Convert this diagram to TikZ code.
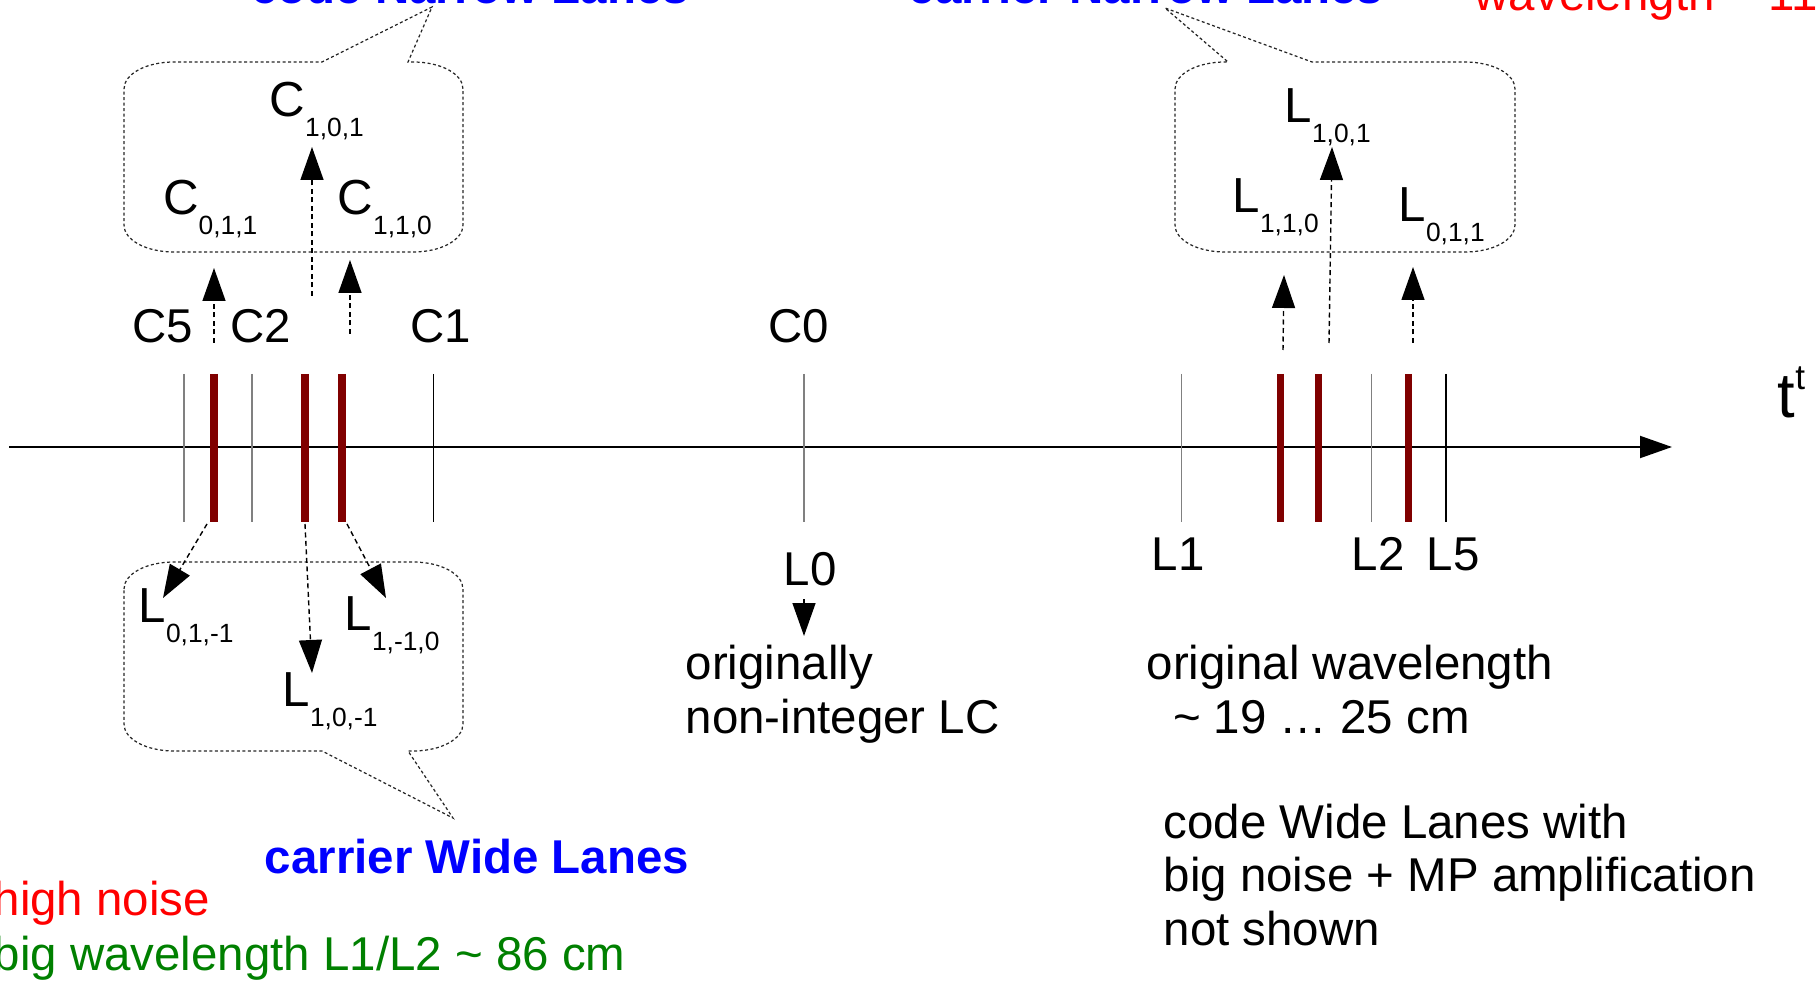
\documentclass[tikz,border=0pt]{standalone}
\usepackage{fontspec}
\setmainfont{Liberation Sans}
\usetikzlibrary{arrows.meta}

\definecolor{lanered}{RGB}{128,0,0}
\definecolor{titleblue}{RGB}{0,0,255}
\definecolor{noisered}{RGB}{255,0,0}
\definecolor{wavegreen}{RGB}{0,128,0}

\newcommand{\lanelbl}[2]{{\fontsize{14}{14}\selectfont #1}\raisebox{-2mm}{\fontsize{7.5}{8}\selectfont #2}}

\begin{document}
\begin{tikzpicture}[x=0.1mm,y=-0.1mm,
  every node/.style={inner sep=0pt,font=\fontsize{13.5}{15.1}\selectfont},
  lane/.style={draw=lanered,line width=2pt},
  freq/.style={draw=gray,line width=0.5pt},
  bubble/.style={draw=black!85,line width=0.35pt,dash pattern=on 0.3mm off 0.25mm},
  combo/.style={draw=black,line width=0.4pt,dash pattern=on 0.5mm off 0.35mm,-{Triangle[length=3.3mm,width=2.3mm]}},
  heading/.style={font=\fontsize{13.5}{15}\selectfont\bfseries,text=titleblue}]
\useasboundingbox (0,0) rectangle (1820,981);
\clip (0,0) rectangle (1820,981);

% time axis
\coordinate (axl) at (9,447);
\coordinate (axr) at (1672,447);
\draw[line width=0.55pt,-{Triangle[length=3.2mm,width=2.2mm]}] (axl) -- (axr);
\node[anchor=base west] (taxis) at (1777,418) {\fontsize{18}{18}\selectfont t\raisebox{2.9mm}{\fontsize{10}{10}\selectfont t}};

% frequencies and combinations on the axis
\draw[freq] (184,374) -- (184,522);
\draw[lane] (214,374) -- (214,522);
\draw[freq] (252,374) -- (252,522);
\draw[lane] (305,374) -- (305,522);
\draw[lane] (342,374) -- (342,522);
\draw[freq,draw=black] (433.5,374) -- (433.5,522);
\draw[freq] (804,374) -- (804,522);
\draw[freq] (1181.5,374) -- (1181.5,522);
\draw[lane] (1280,374) -- (1280,522);
\draw[lane] (1318,374) -- (1318,522);
\draw[freq] (1371.5,374) -- (1371.5,522);
\draw[lane] (1408.5,374) -- (1408.5,522);
\draw[freq,draw=black,line width=0.35pt] (1446,374) -- (1446,522);

\node[anchor=base] (c5) at (163,343) {C5};
\node[anchor=base] (c2) at (261,343) {C2};
\node[anchor=base] (c1) at (441,343) {C1};
\node[anchor=base] (c0) at (799,343) {C0};
\node[anchor=base] (l0) at (810,585) {L0};
\node[anchor=base] (l1) at (1178,570) {L1};
\node[anchor=base] (l2) at (1378,570) {L2};
\node[anchor=base] (l5) at (1453,570) {L5};

% code narrow lanes
\draw[bubble] (124,89) .. controls (124,74) and (146,62) .. (174,62) -- (322,62) -- (432,7) -- (408,62) -- (413,62)
  .. controls (441,62) and (463,74) .. (463,89) -- (463,225) .. controls (463,240) and (441,252) .. (413,252)
  -- (174,252) .. controls (146,252) and (124,240) .. (124,225) -- cycle;
\node[heading,anchor=base] (cnl) at (470,4) {code Narrow Lanes};
\node[anchor=base west] (c101) at (269,117) {\lanelbl{C}{1,0,1}};
\node[anchor=base west] (c011) at (162.5,215) {\lanelbl{C}{0,1,1}};
\node[anchor=base west] (c110) at (337,215) {\lanelbl{C}{1,1,0}};

% carrier narrow lanes
\draw[bubble] (1175,89) .. controls (1175,74) and (1197,62) .. (1225,62) -- (1228,62) -- (1165,8) -- (1312,62) -- (1465,62)
  .. controls (1493,62) and (1515,74) .. (1515,89) -- (1515,225) .. controls (1515,240) and (1493,252) .. (1465,252)
  -- (1225,252) .. controls (1197,252) and (1175,240) .. (1175,225) -- cycle;
\node[heading,anchor=base] (knl) at (1146,4) {carrier Narrow Lanes};
\node[anchor=base west] (l101) at (1284,123) {\lanelbl{L}{1,0,1}};
\node[anchor=base west] (l110) at (1232,213) {\lanelbl{L}{1,1,0}};
\node[anchor=base west] (l011) at (1398,222) {\lanelbl{L}{0,1,1}};
\node[anchor=base west,text=noisered] (nlwave) at (1474,11) {wavelength \textasciitilde{} 11};

% carrier wide lanes
\draw[bubble] (124,589) .. controls (124,574) and (146,562) .. (174,562) -- (413,562)
  .. controls (441,562) and (463,574) .. (463,589) -- (463,724) .. controls (463,739) and (441,751) .. (413,751)
  -- (408,751) -- (453,818) -- (322,751)
  -- (174,751) .. controls (146,751) and (124,739) .. (124,724) -- cycle;
\node[heading,anchor=base] (kwl) at (477,873) {carrier Wide Lanes};
\node[anchor=base west] (l01m1) at (138,622) {\lanelbl{L}{0,1,-1}};
\node[anchor=base west] (l1m10) at (344,630) {\lanelbl{L}{1,-1,0}};
\node[anchor=base west] (l10m1) at (282,706) {\lanelbl{L}{1,0,-1}};

% combination arrows
\coordinate (a1s) at (214,343);  \coordinate (a1e) at (214,268);
\coordinate (a2s) at (312,296);  \coordinate (a2e) at (312,147);
\coordinate (a3s) at (350,334);  \coordinate (a3e) at (350,260);
\coordinate (a4s) at (1283,350); \coordinate (a4e) at (1284,275);
\coordinate (a5s) at (1329,343); \coordinate (a5e) at (1332,147);
\coordinate (a6s) at (1413,343); \coordinate (a6e) at (1413,267);
\coordinate (a7s) at (207,524);  \coordinate (a7e) at (163,598);
\coordinate (a8s) at (305,524);  \coordinate (a8e) at (312,673);
\coordinate (a9s) at (347,524);  \coordinate (a9e) at (386,598);
\draw[combo] (a1s) -- (a1e);
\draw[combo] (a2s) -- (a2e);
\draw[combo] (a3s) -- (a3e);
\draw[combo] (a4s) -- (a4e);
\draw[combo] (a5s) -- (a5e);
\draw[combo] (a6s) -- (a6e);
\draw[combo] (a7s) -- (a7e);
\draw[combo] (a8s) -- (a8e);
\draw[combo] (a9s) -- (a9e);

% notes (base anchor sits on the last line)
\coordinate (l0s) at (804,599);
\coordinate (l0e) at (804,636);
\draw[line width=0.4pt,-{Triangle[length=3.3mm,width=2.3mm]}] (l0s) -- (l0e);
\node[anchor=base west,align=left] (orig) at (685,733) {originally\\non-integer LC};
\node[anchor=base west,align=left] (wave) at (1146,733) {original wavelength\\\ \ \textasciitilde{} 19 … 25 cm};
\node[anchor=base west,align=left] (cwl) at (1163,945) {code Wide Lanes with\\big noise + MP amplification\\not shown};
\node[anchor=base west,align=left,font=\fontsize{13.5}{15.6}\selectfont] (noise) at (-7,970) {\textcolor{noisered}{high noise}\\\textcolor{wavegreen}{big wavelength L1/L2 \textasciitilde{} 86 cm}};
\end{tikzpicture}
\end{document}
